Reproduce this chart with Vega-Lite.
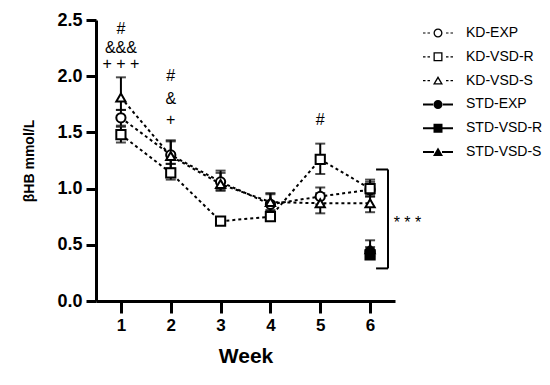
{
  "$schema": "https://vega.github.io/schema/vega-lite/v6.json",
  "width": 299,
  "height": 281,
  "autosize": "none",
  "padding": {"left": 96, "top": 20, "right": 155, "bottom": 84},
  "config": {
    "view": {"stroke": null},
    "font": "Liberation Sans",
    "axis": {
      "domainColor": "black", "domainWidth": 3, "tickColor": "black", "tickWidth": 3,
      "labelColor": "black", "labelFontWeight": "bold", "labelFont": "Liberation Sans",
      "titleColor": "black", "titleFontWeight": "bold", "titleFont": "Liberation Sans", "grid": false
    }
  },
  "datasets": {
    "main": [
      {"group": "KD-EXP", "week": 1, "mean": 1.63, "lo": 1.56, "hi": 1.70},
      {"group": "KD-EXP", "week": 2, "mean": 1.30, "lo": 1.22, "hi": 1.42},
      {"group": "KD-EXP", "week": 3, "mean": 1.06, "lo": 0.99, "hi": 1.16},
      {"group": "KD-EXP", "week": 4, "mean": 0.86, "lo": 0.80, "hi": 0.95},
      {"group": "KD-EXP", "week": 5, "mean": 0.93, "lo": 0.86, "hi": 1.01},
      {"group": "KD-EXP", "week": 6, "mean": 0.99, "lo": 0.93, "hi": 1.06},
      {"group": "KD-VSD-R", "week": 1, "mean": 1.48, "lo": 1.41, "hi": 1.55},
      {"group": "KD-VSD-R", "week": 2, "mean": 1.14, "lo": 1.08, "hi": 1.22},
      {"group": "KD-VSD-R", "week": 3, "mean": 0.71, "lo": 0.68, "hi": 0.74},
      {"group": "KD-VSD-R", "week": 4, "mean": 0.75, "lo": 0.72, "hi": 0.78},
      {"group": "KD-VSD-R", "week": 5, "mean": 1.26, "lo": 1.13, "hi": 1.40},
      {"group": "KD-VSD-R", "week": 6, "mean": 1.00, "lo": 0.93, "hi": 1.08},
      {"group": "KD-VSD-S", "week": 1, "mean": 1.81, "lo": 1.70, "hi": 1.99},
      {"group": "KD-VSD-S", "week": 2, "mean": 1.29, "lo": 1.18, "hi": 1.43},
      {"group": "KD-VSD-S", "week": 3, "mean": 1.04, "lo": 0.98, "hi": 1.14},
      {"group": "KD-VSD-S", "week": 4, "mean": 0.88, "lo": 0.81, "hi": 0.96},
      {"group": "KD-VSD-S", "week": 5, "mean": 0.87, "lo": 0.78, "hi": 0.96},
      {"group": "KD-VSD-S", "week": 6, "mean": 0.87, "lo": 0.79, "hi": 0.95},
      {"group": "STD-EXP", "week": 6, "mean": 0.44, "lo": 0.40, "hi": 0.48},
      {"group": "STD-VSD-R", "week": 6, "mean": 0.41, "lo": 0.38, "hi": 0.44},
      {"group": "STD-VSD-S", "week": 6, "mean": 0.46, "lo": 0.40, "hi": 0.54}
    ],
    "notes": [
      {"week": 1, "y": 2.42, "label": "#"},
      {"week": 1, "y": 2.25, "label": "&&&"},
      {"week": 1, "y": 2.11, "label": "+ + +"},
      {"week": 2, "y": 2.00, "label": "#"},
      {"week": 2, "y": 1.80, "label": "&"},
      {"week": 2, "y": 1.61, "label": "+"},
      {"week": 5, "y": 1.61, "label": "#"},
      {"week": 6.75, "y": 0.69, "label": "* * *"}
    ],
    "bracket": [
      {"x": 6.12, "x2": 6.36, "y": 1.17, "y2": 1.17},
      {"x": 6.12, "x2": 6.36, "y": 0.29, "y2": 0.29},
      {"x": 6.36, "x2": 6.36, "y": 0.29, "y2": 1.17}
    ]
  },
  "resolve": {"scale": {"shape": "independent", "fill": "independent"}},
  "layer": [
    {
      "data": {"name": "main"},
      "transform": [{"filter": {"field": "group", "oneOf": ["KD-EXP", "KD-VSD-R", "KD-VSD-S"]}}],
      "mark": {"type": "line", "color": "black", "strokeWidth": 2, "strokeDash": [3, 3]},
      "encoding": {
        "x": {"field": "week", "type": "quantitative", "scale": {"domain": [0.5, 6.5], "nice": false, "zero": false},
          "axis": {"values": [1, 2, 3, 4, 5, 6], "title": "Week", "tickSize": 12, "labelFontSize": 17, "labelPadding": 4, "titleFontSize": 21, "titlePadding": 12}},
        "y": {"field": "mean", "type": "quantitative", "scale": {"domain": [0, 2.5], "nice": false},
          "axis": {"values": [0, 0.5, 1, 1.5, 2, 2.5], "format": ".1f", "title": "βHB mmol/L", "tickSize": 10, "labelFontSize": 18, "labelPadding": 4, "titleFontSize": 14, "titlePadding": 20}},
        "detail": {"field": "group"}
      }
    },
    {
      "data": {"name": "main"},
      "mark": {"type": "rule", "color": "black", "strokeWidth": 2},
      "encoding": {
        "x": {"field": "week", "type": "quantitative"},
        "y": {"field": "lo", "type": "quantitative"},
        "y2": {"field": "hi"}
      }
    },
    {
      "data": {"name": "main"},
      "mark": {"type": "tick", "color": "black", "orient": "horizontal", "size": 10, "thickness": 2},
      "encoding": {
        "x": {"field": "week", "type": "quantitative"},
        "y": {"field": "lo", "type": "quantitative"}
      }
    },
    {
      "data": {"name": "main"},
      "mark": {"type": "tick", "color": "black", "orient": "horizontal", "size": 10, "thickness": 2},
      "encoding": {
        "x": {"field": "week", "type": "quantitative"},
        "y": {"field": "hi", "type": "quantitative"}
      }
    },
    {
      "data": {"name": "main"},
      "mark": {"type": "point", "stroke": "black", "strokeWidth": 2, "size": 85, "opacity": 1, "fillOpacity": 1},
      "encoding": {
        "x": {"field": "week", "type": "quantitative"},
        "y": {"field": "mean", "type": "quantitative"},
        "shape": {"field": "group", "type": "nominal", "legend": null,
          "scale": {"domain": ["KD-EXP", "KD-VSD-R", "KD-VSD-S", "STD-EXP", "STD-VSD-R", "STD-VSD-S"],
            "range": ["circle", "square", "triangle-up", "circle", "square", "triangle-up"]}},
        "fill": {"field": "group", "type": "nominal", "legend": null,
          "scale": {"domain": ["KD-EXP", "KD-VSD-R", "KD-VSD-S", "STD-EXP", "STD-VSD-R", "STD-VSD-S"],
            "range": ["white", "white", "white", "black", "black", "black"]}}
      }
    },
    {
      "data": {"name": "main"},
      "transform": [{"filter": "datum.week > 100"}],
      "mark": {"type": "point", "filled": true, "color": "black", "size": 4, "opacity": 1},
      "encoding": {
        "x": {"field": "week", "type": "quantitative"},
        "y": {"field": "mean", "type": "quantitative"},
        "shape": {"field": "group", "type": "nominal",
          "scale": {"domain": ["KD-EXP", "KD-VSD-R", "KD-VSD-S", "STD-EXP", "STD-VSD-R", "STD-VSD-S"],
            "range": [
              "M-15,-0.6H-12.5V0.6H-15ZM-10.5,-0.6H-8V0.6H-10.5ZM8,-0.6H10.5V0.6H8ZM12.5,-0.6H15V0.6H12.5ZM4.5,0A4.5,4.5,0,1,0,-4.5,0A4.5,4.5,0,1,0,4.5,0ZM3.2,0A3.2,3.2,0,1,1,-3.2,0A3.2,3.2,0,1,1,3.2,0Z",
              "M-15,-0.6H-12.5V0.6H-15ZM-10.5,-0.6H-8V0.6H-10.5ZM8,-0.6H10.5V0.6H8ZM12.5,-0.6H15V0.6H12.5ZM-4.5,-4.5H4.5V4.5H-4.5ZM-3.2,-3.2V3.2H3.2V-3.2Z",
              "M-15,-0.6H-12.5V0.6H-15ZM-10.5,-0.6H-8V0.6H-10.5ZM8,-0.6H10.5V0.6H8ZM12.5,-0.6H15V0.6H12.5ZM0,-4.5L5,4H-5ZM0,-1.93L-2.73,2.7H2.73Z",
              "M-15,-1H-4V1H-15ZM4,-1H15V1H4ZM4.5,0A4.5,4.5,0,1,0,-4.5,0A4.5,4.5,0,1,0,4.5,0Z",
              "M-15,-1H-4V1H-15ZM4,-1H15V1H4ZM-4.5,-4.5H4.5V4.5H-4.5Z",
              "M-15,-1H-4V1H-15ZM4,-1H15V1H4ZM0,-4.5L5,4H-5Z"
            ]},
          "legend": {"title": null, "orient": "none", "legendX": 335, "legendY": 6, "padding": 0,
            "labelFontSize": 14, "labelFont": "Liberation Sans", "labelColor": "black", "labelOffset": 21,
            "rowPadding": 9.8, "symbolOpacity": 1, "symbolFillColor": "black", "symbolStrokeWidth": 0, "symbolSize": 4}}
      }
    },
    {
      "data": {"name": "notes"},
      "mark": {"type": "text", "color": "black", "fontSize": 16, "font": "Liberation Sans", "baseline": "middle", "align": "center"},
      "encoding": {
        "x": {"field": "week", "type": "quantitative"},
        "y": {"field": "y", "type": "quantitative"},
        "text": {"field": "label"}
      }
    },
    {
      "data": {"name": "bracket"},
      "mark": {"type": "rule", "color": "black", "strokeWidth": 2},
      "encoding": {
        "x": {"field": "x", "type": "quantitative"},
        "x2": {"field": "x2"},
        "y": {"field": "y", "type": "quantitative"},
        "y2": {"field": "y2"}
      }
    }
  ]
}
